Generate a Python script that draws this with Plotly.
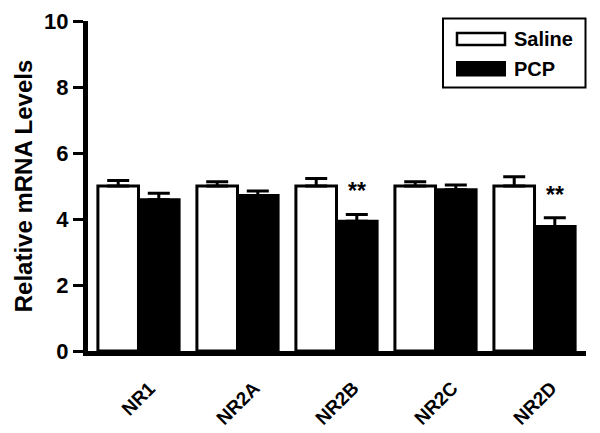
import plotly.graph_objects as go

categories = ["NR1", "NR2A", "NR2B", "NR2C", "NR2D"]
saline = [5.0, 5.0, 5.0, 5.0, 5.0]
saline_err = [0.17, 0.13, 0.23, 0.13, 0.28]
pcp = [4.58, 4.71, 3.93, 4.89, 3.77]
pcp_err = [0.20, 0.14, 0.21, 0.14, 0.27]
significance = ["", "", "**", "", "**"]
series_names = ["Saline", "PCP"]
y_ticks = [0, 2, 4, 6, 8, 10]

FONT = "Liberation Sans, Arial, sans-serif"
L, R, T, B = 88, 14, 21, 82
W, H = 600, 433
PW, PH = W - L - R, H - T - B


def px2x(px):
    return (px - L) / PW


def py2y(py):
    return (H - B - py) / PH


BARGAP = 0.18
fig = go.Figure()
fig.add_trace(go.Bar(
    x=categories, y=saline, name=series_names[0],
    marker=dict(color="white", line=dict(color="black", width=3)),
    error_y=dict(type="data", symmetric=False, array=saline_err,
                 arrayminus=[0] * len(saline), color="black", thickness=3, width=11),
    showlegend=False,
))
fig.add_trace(go.Bar(
    x=categories, y=pcp, name=series_names[1],
    marker=dict(color="black", line=dict(color="black", width=3)),
    error_y=dict(type="data", symmetric=False, array=pcp_err,
                 arrayminus=[0] * len(pcp), color="black", thickness=3, width=11),
    showlegend=False,
))

half = (1 - BARGAP) / 4
for i, s in enumerate(significance):
    if s:
        fig.add_annotation(x=i + half, y=pcp[i] + pcp_err[i], text="<b>" + s + "</b>",
                           showarrow=False, yanchor="bottom", yshift=8,
                           font=dict(family=FONT, size=23, color="black"))

# category labels, rotated and centred under each group
for c in categories:
    fig.add_annotation(x=c, xref="x", y=py2y(376), yref="paper",
                       xanchor="center", yanchor="top", showarrow=False,
                       textangle=-45, text="<b>" + c + "</b>", borderpad=0,
                       font=dict(family=FONT, size=19, color="black"))

# custom legend (wide swatches)
shapes = [
    dict(type="rect", xref="paper", yref="paper", x0=px2x(443), x1=px2x(585.5),
         y0=py2y(87.5), y1=py2y(18.5), line=dict(color="black", width=2), fillcolor="white"),
    dict(type="rect", xref="paper", yref="paper", x0=px2x(457), x1=px2x(505),
         y0=py2y(45), y1=py2y(33), line=dict(color="black", width=2.5), fillcolor="white"),
    dict(type="rect", xref="paper", yref="paper", x0=px2x(456), x1=px2x(506),
         y0=py2y(76.5), y1=py2y(61), line=dict(color="black", width=0), fillcolor="black"),
]
fig.update_layout(shapes=shapes)
for name, cy in zip(series_names, [39.5, 69]):
    fig.add_annotation(xref="paper", yref="paper", x=px2x(512), y=py2y(cy),
                       xanchor="left", yanchor="middle", showarrow=False,
                       text="<b>" + name + "</b>",
                       font=dict(family=FONT, size=20, color="black"))

fig.update_layout(
    width=W, height=H,
    margin=dict(l=L, r=R, t=T, b=B, pad=0, autoexpand=False),
    paper_bgcolor="white", plot_bgcolor="white",
    barmode="group", bargap=BARGAP, bargroupgap=0,
    font=dict(family=FONT, color="black"),
    xaxis=dict(
        range=[-0.51, 4.52], showgrid=False, zeroline=False, automargin=False,
        showline=True, linewidth=5, linecolor="black",
        ticks="", showticklabels=False,
    ),
    yaxis=dict(
        range=[0, 10], tickvals=y_ticks, showgrid=False, zeroline=False, automargin=False,
        showline=True, linewidth=5, linecolor="black",
        ticks="outside", ticklen=10, tickwidth=3, tickcolor="black",
        tickfont=dict(family=FONT, size=22, color="black", weight="bold"),
        title=dict(text="<b>Relative mRNA Levels</b>", standoff=6,
                   font=dict(family=FONT, size=24, color="black")),
    ),
)

fig.write_html("out.html", config={"displayModeBar": False},
               post_script="document.body.style.margin='0px';")
